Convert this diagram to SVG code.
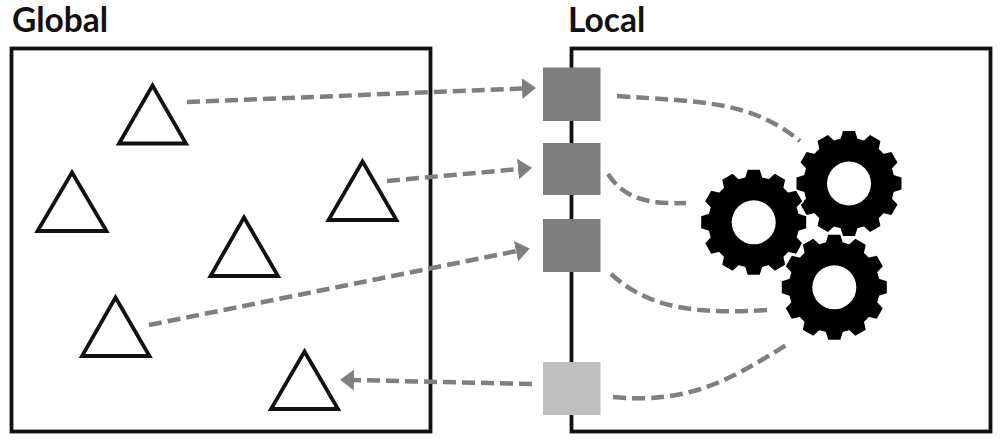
<svg xmlns="http://www.w3.org/2000/svg" width="1000" height="442" viewBox="0 0 1000 442">
<defs>
<marker id="a" markerWidth="16" markerHeight="22" refX="1" refY="10.500" orient="auto" markerUnits="userSpaceOnUse"><path d="M0 0L14 10.500L0 21Z" fill="#7f7f7f"/></marker>
<g id="gearshape"><path id="t" d="M-6 -52.500H6L9 -43H-9Z"/>
<use href="#t" transform="rotate(30)"/><use href="#t" transform="rotate(60)"/><use href="#t" transform="rotate(90)"/><use href="#t" transform="rotate(120)"/><use href="#t" transform="rotate(150)"/><use href="#t" transform="rotate(180)"/><use href="#t" transform="rotate(210)"/><use href="#t" transform="rotate(240)"/><use href="#t" transform="rotate(270)"/><use href="#t" transform="rotate(300)"/><use href="#t" transform="rotate(330)"/>
<circle r="45.500"/></g>
<g id="gear"><use href="#gearshape" fill="#fff" stroke="#fff" stroke-width="3"/><use href="#gearshape" fill="#000"/><circle r="22" fill="#fff"/></g>
</defs>
<style>
.box{fill:#fff;stroke:#111;stroke-width:3.8}
.tri{fill:#fff;stroke:#111;stroke-width:3.800}
.lbl{font:700 33.500px Lato,"Liberation Sans",sans-serif;fill:#111}
.c{fill:none;stroke:#7f7f7f;stroke-width:4.500;stroke-dasharray:13 6}
.arrow{marker-end:url(#a)}
.p{fill:#7f7f7f}
</style>
<g id="global"><rect class="box" x="11.500" y="48.500" width="419" height="383"/><text class="lbl" x="12" y="32">Global</text></g>
<g id="local"><rect class="box" x="571.500" y="48.500" width="419" height="383"/><text class="lbl" x="568" y="32">Local</text></g>
<g id="tri1"><path class="tri" d="M152.500 85.500L186 143.500H119Z"/></g>
<g id="tri2"><path class="tri" d="M72 172.500L106.500 231H37.500Z"/></g>
<g id="tri3"><path class="tri" d="M362.500 161.500L396.500 220H328.500Z"/></g>
<g id="tri4"><path class="tri" d="M244 217.500L278 276H210.500Z"/></g>
<g id="tri5"><path class="tri" d="M115.500 297.500L149.500 356H82Z"/></g>
<g id="tri6"><path class="tri" d="M304.500 351.500L338 409H271Z"/></g>
<g id="port1"><rect class="p" x="543" y="67.500" width="57.500" height="53.500"/></g>
<g id="port2"><rect class="p" x="543" y="143" width="57.500" height="52"/></g>
<g id="port3"><rect class="p" x="543" y="219" width="57.500" height="53"/></g>
<g id="port4"><rect x="543" y="362" width="57.500" height="53" fill="#c0c0c0"/></g>
<g id="gear1"><use href="#gear" x="849" y="183.500"/></g>
<g id="gear2"><use href="#gear" x="753.700" y="222.300"/></g>
<g id="gear3"><use href="#gear" x="834.300" y="287.300"/></g>
<g id="connectors">
<path class="c arrow" d="M187 102L523 88.500"/>
<path class="c arrow" d="M387 181L519 169"/>
<path class="c arrow" d="M149 325L517 251"/>
<path class="c arrow" d="M532 384L353 380"/>
<path class="c" d="M617 96C700 102 750 100 800 141"/>
<path class="c" d="M608 174C625 200 650 204 686 203"/>
<path class="c" d="M611 274C650 310 700 314 768 310"/>
<path class="c" d="M613 397C690 404 730 380 788 344"/>
</g>
</svg>
